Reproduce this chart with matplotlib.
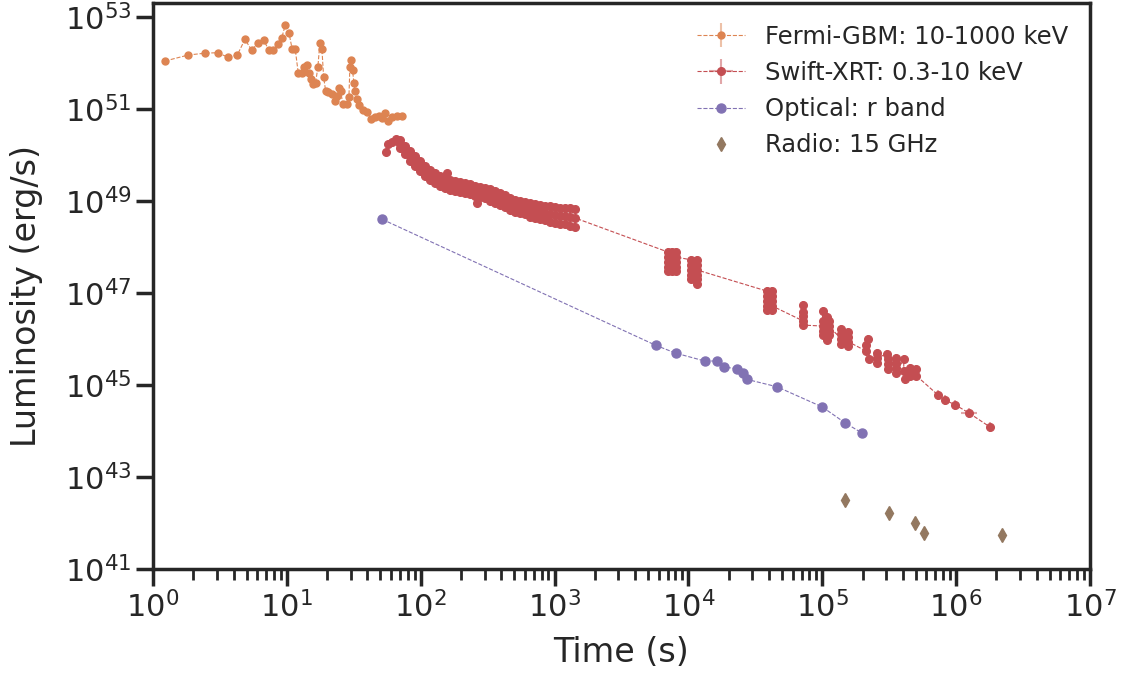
import numpy as np
import matplotlib
matplotlib.use("Agg")
import matplotlib.pyplot as plt
import seaborn as sns
from matplotlib.colors import to_rgba
from matplotlib.ticker import LogLocator, NullLocator


# values, stored as log10(time / s) and log10(L / erg s^-1)
fermi_logt = [0.090, 0.264, 0.388, 0.483, 0.562, 0.630, 0.687, 0.739, 0.784, 0.829,
              0.864, 0.898, 0.931, 0.961, 0.988, 1.016, 1.040, 1.063, 1.085, 1.111,
              1.128, 1.150, 1.165, 1.182, 1.197, 1.215, 1.232, 1.247, 1.262, 1.275,
              1.290, 1.309, 1.335, 1.359, 1.376, 1.389, 1.404, 1.417, 1.447, 1.464,
              1.471, 1.481, 1.491, 1.501, 1.511, 1.521, 1.541, 1.571, 1.600, 1.626,
              1.658, 1.686, 1.708, 1.735, 1.753, 1.783, 1.820, 1.862]
fermi_logl = [52.04, 52.17, 52.21, 52.22, 52.12, 52.17, 52.51, 52.27, 52.44, 52.49,
              52.28, 52.27, 52.41, 52.53, 52.82, 52.65, 52.30, 52.29, 51.79, 51.77,
              51.91, 51.95, 51.78, 51.65, 51.54, 51.56, 51.91, 52.43, 52.31, 51.69,
              51.39, 51.36, 51.32, 51.17, 51.28, 51.45, 51.38, 51.10, 51.10, 51.25,
              51.90, 52.06, 51.84, 51.57, 51.38, 51.22, 51.08, 50.97, 50.94, 50.79,
              50.82, 50.85, 50.80, 50.91, 50.73, 50.83, 50.84, 50.85]

# Swift-XRT: first points, then the dense band (upper edge / lower edge / middle)
xrt_start_logt = [1.740, 1.755, 1.785, 1.815, 1.830, 2.193, 2.420]
xrt_start_logl = [50.07, 50.24, 50.28, 50.35, 50.30, 49.61, 48.96]

xrt_band_logt = [1.845, 1.882, 1.919, 1.957, 1.994, 2.031, 2.069, 2.106, 2.143, 2.181,
                 2.218, 2.255, 2.293, 2.330, 2.367, 2.405, 2.442, 2.479, 2.517, 2.554,
                 2.592, 2.629, 2.666, 2.704, 2.741, 2.778, 2.816, 2.853, 2.890, 2.928,
                 2.965, 3.002, 3.040, 3.077, 3.114, 3.152]
xrt_band_hi = [50.33, 50.20, 50.09, 49.98, 49.87, 49.76, 49.68, 49.61, 49.55, 49.50,
               49.46, 49.44, 49.41, 49.39, 49.37, 49.33, 49.31, 49.28, 49.26, 49.22,
               49.17, 49.13, 49.07, 49.02, 49.00, 48.98, 48.95, 48.93, 48.91, 48.89,
               48.89, 48.87, 48.84, 48.84, 48.85, 48.83]
xrt_band_mid = [50.24, 50.11, 49.98, 49.87, 49.76, 49.65, 49.57, 49.50, 49.44, 49.39,
                49.35, 49.33, 49.30, 49.28, 49.26, 49.22, 49.20, 49.17, 49.13, 49.09,
                49.04, 49.00, 48.94, 48.89, 48.87, 48.85, 48.80, 48.78, 48.76, 48.74,
                48.72, 48.70, 48.67, 48.67, 48.65, 48.63]
xrt_band_lo = [50.15, 50.02, 49.87, 49.76, 49.65, 49.54, 49.46, 49.39, 49.33, 49.28,
               49.24, 49.22, 49.19, 49.17, 49.15, 49.11, 49.09, 49.06, 49.00, 48.96,
               48.91, 48.87, 48.81, 48.76, 48.74, 48.72, 48.65, 48.63, 48.61, 48.59,
               48.55, 48.53, 48.50, 48.50, 48.45, 48.43]

# later orbits of Swift-XRT, listed in time order
xrt_late_logt = [3.846, 3.846, 3.846, 3.846, 3.846, 3.876, 3.876, 3.876, 3.876, 3.876,
                 3.906, 3.906, 3.906, 3.906, 3.906,
                 4.018, 4.018, 4.018, 4.018, 4.018, 4.063, 4.063, 4.063, 4.063, 4.063, 4.063,
                 4.586, 4.586, 4.586, 4.586, 4.586, 4.623, 4.623, 4.623, 4.623, 4.623,
                 4.858, 4.858, 4.858, 4.858, 4.858,
                 5.004, 5.004, 5.004, 5.004, 5.004, 5.033, 5.033, 5.048, 5.048, 5.048, 5.048,
                 5.142, 5.142, 5.142, 5.142, 5.194, 5.194, 5.194, 5.194,
                 5.325, 5.325, 5.338, 5.351, 5.412, 5.412, 5.412,
                 5.487, 5.491, 5.491, 5.491, 5.549, 5.549, 5.549, 5.549, 5.609, 5.609, 5.617,
                 5.659, 5.659, 5.659, 5.703, 5.703]
xrt_late_logl = [47.89, 47.78, 47.67, 47.57, 47.48, 47.48, 47.57, 47.67, 47.78, 47.89,
                 47.89, 47.67, 47.57, 47.48, 47.78,
                 47.72, 47.61, 47.50, 47.39, 47.30, 47.72, 47.61, 47.39, 47.30, 47.20, 47.50,
                 47.04, 46.94, 46.83, 46.72, 46.63, 47.04, 46.94, 46.83, 46.63, 46.72,
                 46.39, 46.59, 46.74, 46.50, 46.30,
                 46.28, 46.61, 46.39, 46.17, 46.09, 46.48, 45.97, 46.39, 46.09, 46.17, 46.28,
                 46.00, 46.22, 46.11, 45.89, 46.15, 46.04, 45.85, 45.94,
                 45.74, 45.87, 45.99, 45.56, 45.70, 45.48, 45.59,
                 45.68, 45.57, 45.46, 45.35, 45.59, 45.48, 45.37, 45.26, 45.56, 45.30, 45.12,
                 45.37, 45.26, 45.20, 45.34, 45.20]

xrt_tail_logt = [5.865, 5.917, 5.992, 6.096, 6.251]
xrt_tail_logl = [44.78, 44.67, 44.57, 44.39, 44.09]
xrt_tail_xerr = [0.0, 0.0, 0.0, 0.06, 0.0]

optical_logt = [1.712, 3.757, 3.906, 4.122, 4.214, 4.267, 4.364, 4.409, 4.438, 4.662,
                5.001, 5.173, 5.300]
optical_logl = [48.60, 45.86, 45.69, 45.52, 45.52, 45.39, 45.35, 45.25, 45.12, 44.96,
                44.52, 44.17, 43.95]

radio_logt = [5.168, 5.497, 5.696, 5.760, 6.346]
radio_logl = [42.49, 42.22, 42.01, 41.79, 41.73]

# error sizes in dex
FERMI_ERR = 0.05
XRT_EARLY_ERR = 0.05
XRT_LATE_ERR = 0.09
XRT_TAIL_ERR = 0.11

LEGEND_ORDER = ["Fermi-GBM: 10-1000 keV", "Swift-XRT: 0.3-10 keV",
                "Optical: r band", "Radio: 15 GHz"]


def log_errors(logl, err):
    lum = 10.0 ** np.asarray(logl)
    err = np.broadcast_to(err, lum.shape)
    return np.vstack([lum - lum * 10.0 ** -err, lum * 10.0 ** err - lum])


def main():
    sns.set_theme(context="poster", style="ticks")
    plt.rcParams["font.family"] = ["DejaVu Sans"]
    deep = sns.color_palette("deep")
    orange, red, purple, brown = deep[1], deep[3], deep[4], deep[5]

    fig = plt.figure(figsize=(11.23, 6.76), dpi=100)
    ax = fig.add_axes([0.1362, 0.1583, 0.8344, 0.8373])
    ax.set_xscale("log")
    ax.set_yscale("log")

    # Fermi-GBM
    ft = 10.0 ** np.array(fermi_logt)
    fl = 10.0 ** np.array(fermi_logl)
    ax.errorbar(ft, fl, yerr=log_errors(fermi_logl, FERMI_ERR), fmt="o--",
                color=orange, ms=5, lw=0.8, ecolor=to_rgba(orange, 0.5),
                elinewidth=1.5, capsize=0, label=LEGEND_ORDER[0], zorder=3)

    # Swift-XRT
    early_logt = xrt_start_logt + xrt_band_logt * 3
    early_logl = xrt_start_logl + xrt_band_hi + xrt_band_lo + xrt_band_mid
    n_early = len(early_logt)
    n_late = len(xrt_late_logt)
    logt = np.array(early_logt + xrt_late_logt + xrt_tail_logt)
    logl = np.array(early_logl + xrt_late_logl + xrt_tail_logl)
    errs = np.concatenate([np.full(n_early, XRT_EARLY_ERR),
                           np.full(n_late, XRT_LATE_ERR),
                           np.full(len(xrt_tail_logt), XRT_TAIL_ERR)])
    xerr_dex = np.concatenate([np.zeros(n_early + n_late), xrt_tail_xerr])
    order = np.argsort(logt, kind="stable")
    logt, logl, errs, xerr_dex = logt[order], logl[order], errs[order], xerr_dex[order]
    xt = 10.0 ** logt
    xerr = np.vstack([xt - xt * 10.0 ** -xerr_dex, xt * 10.0 ** xerr_dex - xt])
    ax.errorbar(xt, 10.0 ** logl, yerr=log_errors(logl, errs), xerr=xerr, fmt="o--",
                color=red, ms=5.5, lw=0.8, ecolor=to_rgba(red, 0.5),
                elinewidth=1.5, capsize=0, label=LEGEND_ORDER[1], zorder=4)

    # optical
    ax.plot(10.0 ** np.array(optical_logt), 10.0 ** np.array(optical_logl), "o--",
            color=purple, ms=6.5, lw=0.8, label=LEGEND_ORDER[2], zorder=5)

    # radio
    ax.plot(10.0 ** np.array(radio_logt), 10.0 ** np.array(radio_logl), "d",
            color=brown, ms=7, ls="none", label=LEGEND_ORDER[3], zorder=5)

    ax.set_xlim(1, 1e7)
    ax.set_ylim(1e41, 2e53)
    ax.xaxis.set_major_locator(LogLocator(base=10, numticks=20))
    ax.xaxis.set_minor_locator(LogLocator(base=10, subs=np.arange(2, 10), numticks=20))
    ax.set_yticks([10.0 ** k for k in range(41, 54, 2)])
    ax.yaxis.set_minor_locator(NullLocator())
    ax.tick_params(axis="both", which="major", labelsize=22)

    ax.set_xlabel("Time (s)", fontsize=24)
    ax.set_ylabel("Luminosity (erg/s)", fontsize=24)
    ax.xaxis.set_label_coords(0.5, -0.118)
    ax.yaxis.set_label_coords(-0.117, 0.483)

    handles, labels = ax.get_legend_handles_labels()
    by_label = dict(zip(labels, handles))
    ax.legend([by_label[name] for name in LEGEND_ORDER], LEGEND_ORDER,
              loc="upper right", frameon=False, fontsize=17.5)

    fig.savefig("out.png", dpi=100)
    plt.close(fig)


if __name__ == "__main__":
    main()
